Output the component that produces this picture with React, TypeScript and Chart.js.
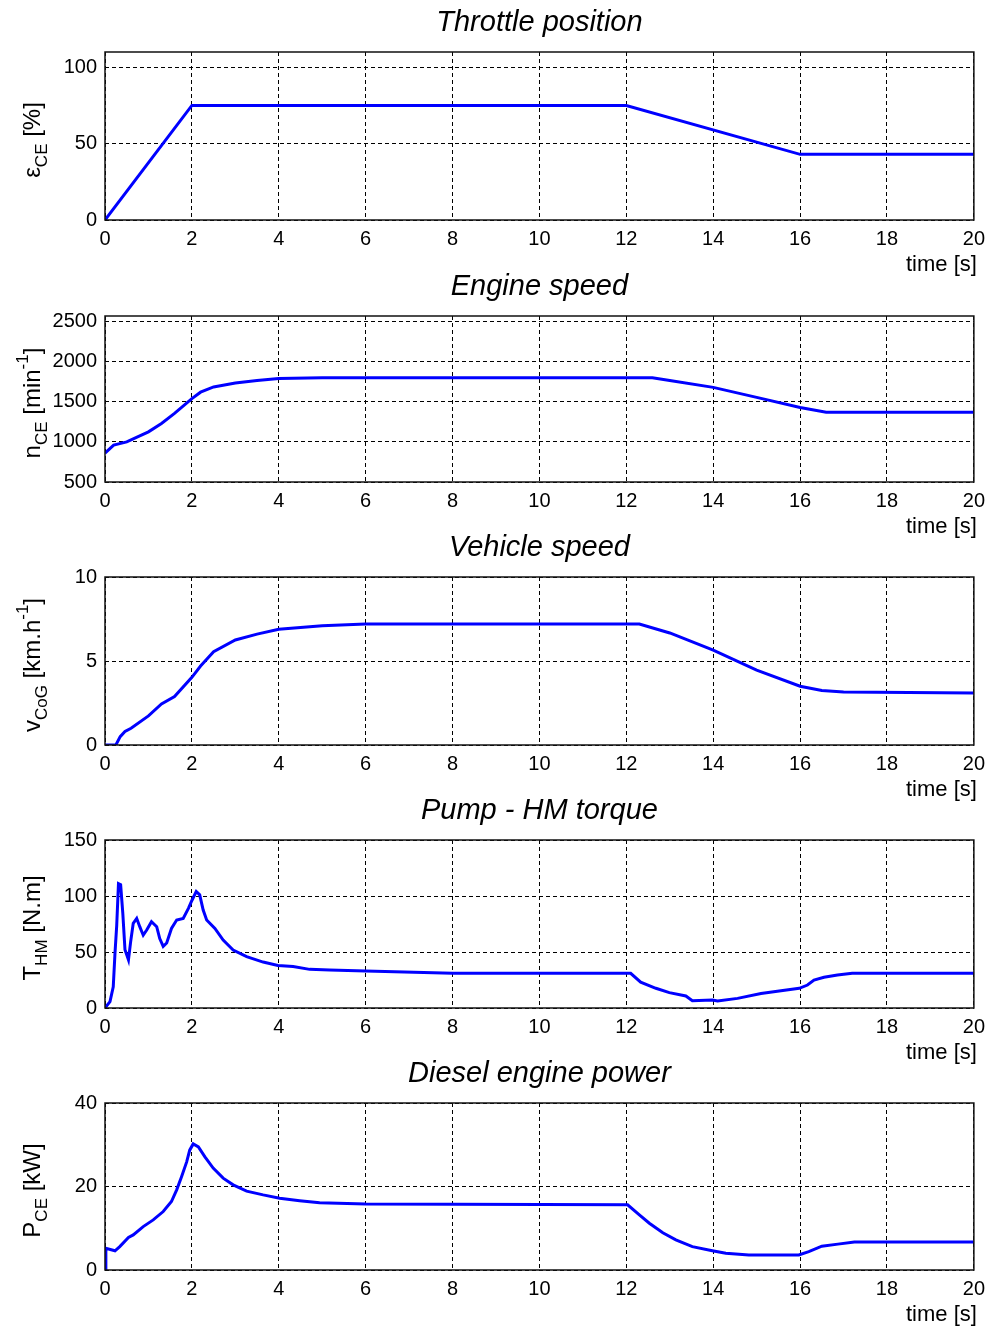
import React, { useEffect, useRef } from 'react';
import { Chart, registerables } from 'chart.js';

Chart.register(...registerables);

const FONT = '"Liberation Sans", Arial, Helvetica, sans-serif';

// ---- shared x axis ----
const xTicks = [0, 2, 4, 6, 8, 10, 12, 14, 16, 18, 20];
const xLabel = 'time [s]';

// ---- Throttle position ----
const throttleTitle = 'Throttle position';
const throttleT = [0, 2, 12, 16, 20];
const throttleV = [0, 75, 75, 43, 43];
const throttleTicks = [0, 50, 100];

// ---- Engine speed ----
const engineTitle = 'Engine speed';
const engineT = [0, 0.2, 0.5, 1.0, 1.3, 1.6, 2.0, 2.2, 2.5, 3.0, 3.5, 4.0, 5.0, 12.6, 13.0, 14.0, 15.0, 16.0, 16.6, 20];
const engineV = [860, 960, 1000, 1125, 1230, 1355, 1540, 1620, 1685, 1735, 1765, 1790, 1800, 1800, 1765, 1680, 1555, 1430, 1370, 1370];
const engineTicks = [500, 1000, 1500, 2000, 2500];

// ---- Vehicle speed ----
const vehicleTitle = 'Vehicle speed';
const vehicleT = [0, 0.25, 0.35, 0.46, 0.6, 1.0, 1.3, 1.6, 2.0, 2.2, 2.5, 3.0, 3.5, 4.0, 5.0, 6.0, 12.3, 13.0, 14.0, 15.0, 16.0, 16.5, 17.0, 20];
const vehicleV = [0, 0, 0.5, 0.8, 1.0, 1.73, 2.44, 2.88, 4.03, 4.7, 5.55, 6.25, 6.6, 6.89, 7.1, 7.2, 7.2, 6.67, 5.65, 4.46, 3.5, 3.25, 3.15, 3.1];
const vehicleTicks = [0, 5, 10];

// ---- Pump - HM torque ----
const torqueTitle = 'Pump - HM torque';
const torqueT = [0, 0.115, 0.19, 0.23, 0.27, 0.31, 0.36, 0.41, 0.46, 0.54, 0.59, 0.65, 0.73, 0.8, 0.88, 0.96, 1.07, 1.19, 1.26, 1.34, 1.42, 1.53, 1.65, 1.8, 1.92, 2.0, 2.1, 2.18, 2.26, 2.34, 2.53, 2.72, 2.95, 3.26, 3.64, 3.98, 4.33, 4.71, 5.17, 6.0, 8.0, 12.1, 12.33, 12.68, 12.99, 13.37, 13.52, 13.98, 14.1, 14.56, 15.1, 15.56, 15.98, 16.17, 16.32, 16.55, 16.86, 17.2, 20];
const torqueV = [0, 5.7, 19, 49, 74, 111, 110, 84.5, 52, 43, 59, 75.6, 80, 72.6, 65, 69.6, 77, 72.6, 62, 55, 58, 71, 78.6, 80, 89, 96, 104, 101, 87.5, 78.6, 71, 60.7, 51.8, 45.8, 41, 38, 37, 34.5, 34, 33, 31, 31, 23, 17.6, 13.7, 10.7, 6.5, 7.1, 6.2, 8.6, 13, 15.5, 17.6, 20.5, 25, 27.4, 29.5, 31, 31];
const torqueTicks = [0, 50, 100, 150];

// ---- Diesel engine power ----
const powerTitle = 'Diesel engine power';
const powerT = [0, 0.02, 0.23, 0.34, 0.54, 0.65, 0.88, 1.11, 1.34, 1.53, 1.65, 1.76, 1.88, 1.95, 2.03, 2.15, 2.3, 2.49, 2.72, 2.95, 3.26, 3.64, 4.02, 4.48, 4.94, 6.0, 12.03, 12.3, 12.53, 12.84, 13.14, 13.52, 13.98, 14.29, 14.82, 15.97, 16.2, 16.5, 16.87, 17.25, 20];
const powerV = [0, 5.2, 4.6, 5.6, 7.8, 8.4, 10.4, 12, 14, 16.4, 19.2, 22.3, 25.9, 28.7, 30.2, 29.5, 27.1, 24.4, 22, 20.4, 18.9, 18, 17.2, 16.6, 16.1, 15.8, 15.6, 13.2, 11.2, 8.9, 7.2, 5.6, 4.6, 4.0, 3.6, 3.6, 4.4, 5.7, 6.2, 6.7, 6.7];
const powerTicks = [0, 20, 40];

type Seg = { t: string; k?: 'sub' | 'sup' };

interface PanelCfg {
  title: string;
  yLabel: Seg[];
  t: number[];
  v: number[];
  yMin: number;
  yMax: number;
  yTicks: number[];
  top: number;
  bottom: number;
}

const panels: PanelCfg[] = [
  { title: throttleTitle, yLabel: [{ t: 'ε' }, { t: 'CE', k: 'sub' }, { t: ' [%]' }], t: throttleT, v: throttleV, yMin: 0, yMax: 110, yTicks: throttleTicks, top: 52, bottom: 220 },
  { title: engineTitle, yLabel: [{ t: 'n' }, { t: 'CE', k: 'sub' }, { t: ' [min' }, { t: '-1', k: 'sup' }, { t: ']' }], t: engineT, v: engineV, yMin: 500, yMax: 2570, yTicks: engineTicks, top: 316, bottom: 482 },
  { title: vehicleTitle, yLabel: [{ t: 'v' }, { t: 'CoG', k: 'sub' }, { t: ' [km.h' }, { t: '-1', k: 'sup' }, { t: ']' }], t: vehicleT, v: vehicleV, yMin: 0, yMax: 10, yTicks: vehicleTicks, top: 577, bottom: 745 },
  { title: torqueTitle, yLabel: [{ t: 'T' }, { t: 'HM', k: 'sub' }, { t: ' [N.m]' }], t: torqueT, v: torqueV, yMin: 0, yMax: 150, yTicks: torqueTicks, top: 840, bottom: 1008 },
  { title: powerTitle, yLabel: [{ t: 'P' }, { t: 'CE', k: 'sub' }, { t: ' [kW]' }], t: powerT, v: powerV, yMin: 0, yMax: 40, yTicks: powerTicks, top: 1103, bottom: 1270 },
];

const PAD_TOP = 52;
const PAD_BOTTOM = 58;
const LEFT = 105;
const RIGHT_PAD = 17;

function Panel({ cfg }: { cfg: PanelCfg }) {
  const ref = useRef<HTMLCanvasElement>(null);
  const h = cfg.bottom - cfg.top + PAD_TOP + PAD_BOTTOM;

  useEffect(() => {
    const canvas = ref.current!;
    const decor = {
      id: 'decor',
      afterDraw(chart: any) {
        const { ctx, chartArea: a } = chart;
        ctx.save();
        ctx.setLineDash([]);
        ctx.strokeStyle = '#111';
        ctx.lineWidth = 1.5;
        ctx.strokeRect(a.left, a.top, a.right - a.left, a.bottom - a.top);
        ctx.fillStyle = '#000';
        // title
        ctx.font = `italic 29px ${FONT}`;
        ctx.textAlign = 'center';
        ctx.textBaseline = 'middle';
        ctx.fillText(cfg.title, (a.left + a.right) / 2, a.top - 29);
        // x label
        ctx.font = `22px ${FONT}`;
        ctx.textAlign = 'right';
        ctx.fillText(xLabel, a.right + 3, a.bottom + 45);
        // y label (rotated, with sub/superscripts)
        const fontFor = (s: Seg) => (s.k ? `17px ${FONT}` : `24px ${FONT}`);
        let total = 0;
        const widths = cfg.yLabel.map((s) => {
          ctx.font = fontFor(s);
          const w = ctx.measureText(s.t).width;
          total += w;
          return w;
        });
        ctx.translate(33, (a.top + a.bottom) / 2 + 4);
        ctx.rotate(-Math.PI / 2);
        ctx.textAlign = 'left';
        ctx.textBaseline = 'middle';
        let x = -total / 2;
        cfg.yLabel.forEach((s, i) => {
          ctx.font = fontFor(s);
          const dy = s.k === 'sub' ? 9 : s.k === 'sup' ? -10 : 0;
          ctx.fillText(s.t, x, dy);
          x += widths[i];
        });
        ctx.restore();
      },
    };

    const chart = new Chart(canvas, {
      type: 'line',
      data: {
        datasets: [
          {
            data: cfg.t.map((t, i) => ({ x: t, y: cfg.v[i] })),
            borderColor: '#0000ff',
            borderWidth: 3,
            pointRadius: 0,
            tension: 0,
            fill: false,
          },
        ],
      },
      options: {
        animation: false,
        responsive: false,
        maintainAspectRatio: false,
        layout: { padding: { top: PAD_TOP, left: 0, right: RIGHT_PAD, bottom: 0 } },
        plugins: { legend: { display: false }, tooltip: { enabled: false }, title: { display: false } },
        scales: {
          x: {
            type: 'linear',
            min: 0,
            max: 20,
            afterBuildTicks: (s: any) => {
              s.ticks = xTicks.map((v) => ({ value: v }));
            },
            afterFit: (s: any) => {
              s.height = PAD_BOTTOM;
            },
            grid: { color: '#000', lineWidth: 1, drawTicks: false },
            border: { display: false, dash: [4, 3] },
            ticks: {
              padding: 7,
              color: '#000',
              font: { family: FONT, size: 20 },
              maxRotation: 0,
              autoSkip: false,
              callback: (v: any) => String(v),
            },
          },
          y: {
            type: 'linear',
            min: cfg.yMin,
            max: cfg.yMax,
            afterBuildTicks: (s: any) => {
              s.ticks = cfg.yTicks.map((v) => ({ value: v }));
            },
            afterFit: (s: any) => {
              s.width = LEFT;
            },
            grid: { color: '#000', lineWidth: 1, drawTicks: false },
            border: { display: false, dash: [4, 3] },
            ticks: {
              padding: 8,
              color: '#000',
              font: { family: FONT, size: 20 },
              autoSkip: false,
              callback: (v: any) => String(v),
            },
          },
        },
      },
      plugins: [decor],
    } as any);
    return () => chart.destroy();
  }, []);

  return (
    <canvas
      ref={ref}
      width={992}
      height={h}
      style={{ position: 'absolute', left: 0, top: cfg.top - PAD_TOP, width: 992, height: h, display: 'block' }}
    />
  );
}

export default function App() {
  return (
    <div style={{ position: 'absolute', left: 0, top: 0, width: 992, height: 1330, background: '#fff', overflow: 'hidden' }}>
      {panels.map((p, i) => (
        <Panel key={i} cfg={p} />
      ))}
    </div>
  );
}
